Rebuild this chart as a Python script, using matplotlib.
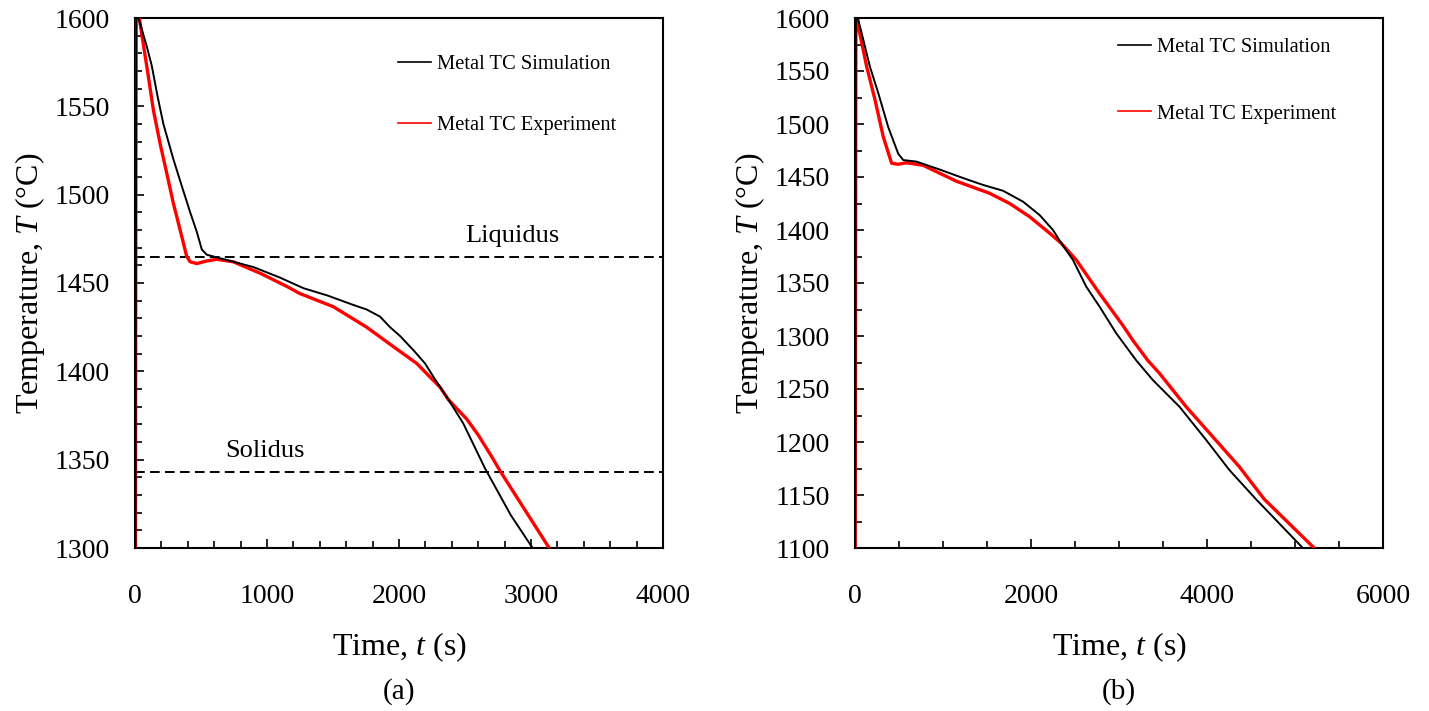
"""
Metal thermocouple cooling curves: simulation vs experiment, panels (a) and (b)
"""

import matplotlib
matplotlib.use('Agg')
import matplotlib.pyplot as plt
from matplotlib.ticker import MultipleLocator

plt.rcParams['font.family'] = ['Liberation Serif', 'DejaVu Serif']
plt.rcParams['mathtext.fontset'] = 'custom'
plt.rcParams['mathtext.rm'] = 'Liberation Serif'
plt.rcParams['mathtext.it'] = 'Liberation Serif:italic'

# Panel (a) data (time s, temperature C)
a_sim_t = [0, 10, 25, 38, 89, 127, 170, 215, 291, 354, 418, 468, 506, 544,
           645, 898, 1100, 1278, 1455, 1657, 1755, 1856, 1932, 2008, 2109,
           2197, 2260, 2374, 2487, 2652, 2847, 3012]
a_sim_T = [1150, 1605, 1600, 1597, 1584, 1573, 1556, 1540, 1520, 1505, 1490,
           1479, 1469, 1466, 1464, 1459, 1453, 1447, 1443, 1437.5, 1435, 1431,
           1425, 1420, 1412, 1404.5, 1397, 1384, 1370.5, 1345, 1318.6, 1300]

a_exp_t = [0, 8, 20, 51, 101, 139, 190, 241, 291, 342, 392, 418, 468, 545, 620,
           745, 949, 1152, 1250, 1502, 1755, 1957, 2134, 2311, 2374, 2513, 2600,
           2700, 2771, 3138]
a_exp_T = [1100, 1600, 1606, 1591, 1567, 1548, 1529, 1512, 1495, 1480, 1465, 1462,
           1461, 1462.5, 1463.4, 1462, 1455.5, 1448, 1444, 1436.6, 1425, 1414,
           1404.5, 1391, 1384, 1373, 1364, 1352, 1343, 1300]

liquidus = 1465
solidus = 1343

# Panel (b) data
b_sim_t = [0, 10, 25, 57, 170, 265, 378, 491, 548, 700, 964, 1229, 1456, 1683,
           1910, 2099, 2250, 2345, 2477, 2628, 2780, 2969, 3196, 3384, 3687, 3990,
           4254, 4557, 5089]
b_sim_T = [950, 1605, 1602, 1592, 1554, 1529, 1497, 1472, 1466, 1464.5, 1457, 1449,
           1442.5, 1437, 1426.7, 1414, 1400, 1387.4, 1371.7, 1346.5, 1327.6, 1302.5,
           1277, 1258.5, 1233.3, 1202, 1173.6, 1146, 1100]

b_exp_t = [0, 10, 20, 38, 133, 227, 321, 416, 491, 586, 775, 1153, 1531, 1758,
           1985, 2212, 2345, 2515, 2780, 3044, 3157, 3327, 3460, 3763, 4065, 4367,
           4651, 5218]
b_exp_T = [950, 1600, 1605, 1592, 1554, 1523, 1488, 1463, 1462, 1463.5, 1461, 1446,
           1434.6, 1425, 1412.5, 1397, 1387.4, 1371.7, 1340, 1310, 1296, 1277,
           1264.8, 1233.3, 1205, 1176.7, 1146, 1100]

W, H = 1429, 711
fig = plt.figure(figsize=(W / 100, H / 100), dpi=100)
ax_a = fig.add_axes([135 / W, 1 - 548 / H, 528 / W, 530 / H])
ax_b = fig.add_axes([855 / W, 1 - 548 / H, 528 / W, 530 / H])


def style_axes(ax, xmax, xmaj, xmin, ymin, ymax, ymaj, yminor):
    ax.set_xlim(0, xmax)
    ax.set_ylim(ymin, ymax)
    ax.xaxis.set_major_locator(MultipleLocator(xmaj))
    ax.xaxis.set_minor_locator(MultipleLocator(xmin))
    ax.yaxis.set_major_locator(MultipleLocator(ymaj))
    ax.yaxis.set_minor_locator(MultipleLocator(yminor))
    ax.tick_params(which='both', direction='in', top=False, right=False,
                   width=1.2, labelsize=20)
    ax.tick_params(axis='x', which='major', length=6.5, pad=26)
    ax.tick_params(axis='y', which='major', length=6.5, pad=18)
    ax.tick_params(which='minor', length=5)
    for sp in ax.spines.values():
        sp.set_linewidth(1.5)
    ax.set_xlabel('Time, $t$ (s)', fontsize=23)
    ax.set_ylabel('Temperature, $T$ (\u00b0C)', fontsize=23, va='center')
    ax.xaxis.set_label_coords(0.5, -0.187)
    ax.yaxis.set_label_coords(-0.199, 0.5)
    ax.xaxis.label.set_va('center')


# Panel (a)
ax_a.plot(a_exp_t, a_exp_T, color='red', lw=2.4, label='Metal TC Experiment', zorder=3)
ax_a.plot(a_sim_t, a_sim_T, color='black', lw=1.4, label='Metal TC Simulation', zorder=4)
ax_a.axhline(liquidus, color='black', ls=(0, (5, 2.7)), lw=1.4, zorder=2)
ax_a.axhline(solidus, color='black', ls=(0, (5, 2.7)), lw=1.4, zorder=2)
ax_a.text(2856, 1476.6, 'Liquidus', fontsize=19, ha='center', va='center')
ax_a.text(985, 1355, 'Solidus', fontsize=19, ha='center', va='center')
style_axes(ax_a, 4000, 1000, 200, 1300, 1600, 50, 10)

# Panel (b)
ax_b.plot(b_exp_t, b_exp_T, color='red', lw=2.4, label='Metal TC Experiment', zorder=3)
ax_b.plot(b_sim_t, b_sim_T, color='black', lw=1.4, label='Metal TC Simulation', zorder=4)
style_axes(ax_b, 6000, 2000, 500, 1100, 1600, 50, 25)

for ax, top, spacing in [(ax_a, 0.930, 2.0), (ax_b, 0.963, 2.3)]:
    handles, labels = ax.get_legend_handles_labels()
    leg = ax.legend(handles[::-1], labels[::-1], loc='upper left',
                    bbox_to_anchor=(0.498, top), frameon=False, fontsize=14.8,
                    handlelength=1.6, handletextpad=0.3, borderpad=0,
                    borderaxespad=0, labelspacing=spacing)
    for line in leg.get_lines():
        line.set_linewidth(1.2)

fig.text(399 / W, 1 - 692 / H, '(a)', fontsize=21, ha='center', va='center')
fig.text(1119 / W, 1 - 692 / H, '(b)', fontsize=21, ha='center', va='center')

fig.savefig('out.png', dpi=100)
